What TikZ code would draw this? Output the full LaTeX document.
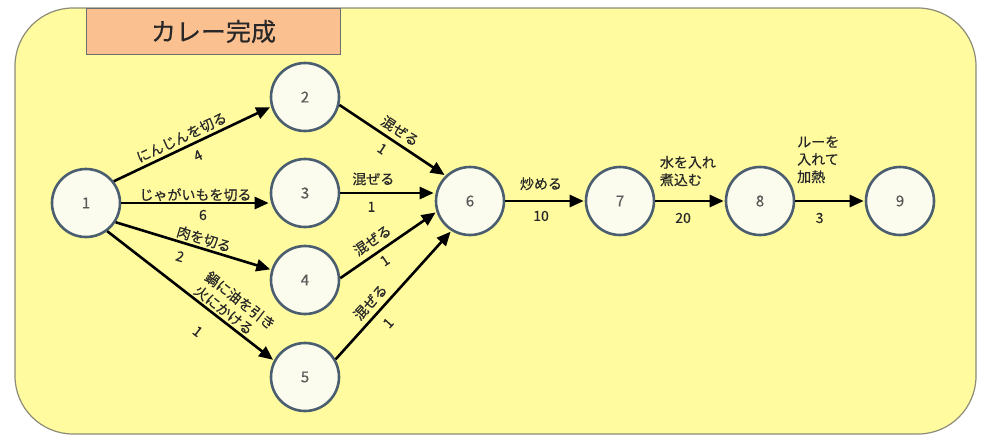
\documentclass[tikz,border=0pt]{standalone}
\usepackage{fontspec}
\setmainfont{Noto Sans CJK JP}[FakeBold=0.4]
\usetikzlibrary{arrows.meta}
\definecolor{bgyellow}{RGB}{255,251,158}
\definecolor{bgborder}{RGB}{140,140,120}
\definecolor{titlefill}{RGB}{250,192,144}
\definecolor{titleborder}{RGB}{110,110,110}
\definecolor{circfill}{RGB}{252,252,238}
\definecolor{circborder}{RGB}{74,94,112}
\definecolor{txt}{RGB}{40,40,40}
\begin{document}
\begin{tikzpicture}[x=1pt,y=-1pt,
  ev/.style={circle,draw=circborder,line width=2.6pt,fill=circfill,minimum size=68pt,inner sep=0pt,
    font=\fontsize{15}{15}\selectfont,text=black!65},
  arr/.style={line width=2.6pt,draw=black,-{Triangle[length=14pt,width=12pt]},shorten >=1pt},
  lab/.style={font=\fontsize{14}{17.5}\selectfont,text=txt,inner sep=1.5pt},
  titlebox/.style={draw=titleborder,line width=1pt,fill=titlefill,minimum width=254pt,minimum height=46pt,
    inner sep=0pt,font=\fontsize{25}{25}\selectfont,text=txt}]
\useasboundingbox (0,0) rectangle (984,437);
\draw[fill=bgyellow,draw=bgborder,line width=1.2pt,rounded corners=58pt] (15,8) rectangle (976,434);
\node[titlebox,anchor=north west] (title) at (86,8) {カレー完成};

\node[ev] (n1) at (86,203) {1};
\node[ev] (n2) at (305,97) {2};
\node[ev] (n3) at (305,193) {3};
\node[ev] (n4) at (305,280) {4};
\node[ev] (n5) at (305,377) {5};
\node[ev] (n6) at (470,201) {6};
\node[ev] (n7) at (620,201) {7};
\node[ev] (n8) at (760,201) {8};
\node[ev] (n9) at (900,201) {9};

\draw[arr] (n1.38) -- node[lab,sloped,above=1.5pt,pos=0.46]{にんじんを切る} node[lab,sloped,below=5pt,pos=0.5]{4} (n2.196);
\draw[arr] (n1.east) -- node[lab,above=-1pt,pos=0.5]{じゃがいもを切る} node[lab,below=4pt,pos=0.55]{6} (n3.west |- n1.east);
\draw[arr] (n1.-33) -- node[lab,sloped,above=0.5pt,pos=0.55]{肉を切る} node[lab,sloped,below=6pt,pos=0.44]{2} (n4.163);
\draw[arr] (n1.-53) -- node[lab,sloped,above=0pt,pos=0.7,align=left]{鍋に油を引き\\火にかける} node[lab,sloped,below=16pt,pos=0.63]{1} (n5.152);

\draw[arr] (n2.-13) -- node[lab,sloped,above=3pt,pos=0.51]{混ぜる} node[lab,sloped,below=5pt,pos=0.47]{1} (n6.134);
\draw[arr] (n3.east) -- node[lab,above=5pt,pos=0.35]{混ぜる} node[lab,below=6pt,pos=0.33]{1} (n6.west |- n3.east);
\draw[arr] (n4.3) -- node[lab,sloped,above=4pt,pos=0.41]{混ぜる} node[lab,sloped,below=3pt,pos=0.4]{1} (n6.198);
\draw[arr] (n5.30) -- node[lab,sloped,above=3.5pt,pos=0.38]{混ぜる} node[lab,sloped,below=7pt,pos=0.36]{1} (n6.238);

\draw[arr] (n6) -- node[lab,above=8pt,pos=0.45]{炒める} node[lab,below=7pt,pos=0.45]{10} (n7);
\draw[arr] (n7) -- node[lab,above=12pt,pos=0.47,align=left]{水を入れ\\煮込む} node[lab,below=9pt,pos=0.4]{20} (n8);
\draw[arr] (n8) -- node[lab,above=15pt,pos=0.33,align=left]{ルーを\\入れて\\加熱} node[lab,below=9pt,pos=0.35]{3} (n9);
\end{tikzpicture}
\end{document}
